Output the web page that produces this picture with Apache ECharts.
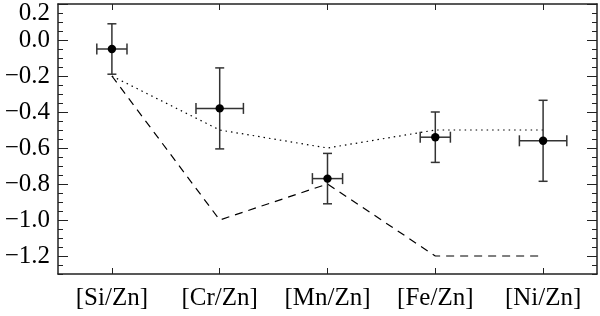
<!DOCTYPE html>
<html>
<head>
<meta charset="utf-8">
<script src="https://cdn.jsdelivr.net/npm/echarts@6/dist/echarts.min.js"></script>
<style>
html,body{margin:0;padding:0;background:#fff;}
#chart{width:600px;height:316px;}
</style>
</head>
<body>
<div id="chart"></div>
<script>
const categories = ['[Si/Zn]', '[Cr/Zn]', '[Mn/Zn]', '[Fe/Zn]', '[Ni/Zn]'];
const obsValues = [-0.05, -0.38, -0.77, -0.54, -0.56];
const obsYErr = [0.14, 0.225, 0.14, 0.14, 0.225];
const obsXErr = [0.14, 0.22, 0.14, 0.14, 0.22];
const modelDotted = [-0.2, -0.5, -0.6, -0.5, -0.5];
const modelDashed = [-0.2, -1.0, -0.8, -1.2, -1.2];
const yTickValues = [0.2, 0.0, -0.2, -0.4, -0.6, -0.8, -1.0, -1.2];

const FONT = 'Liberation Serif, serif';
const INK = '#222';

function fmt(v) {
  const r = Math.round(v * 10) / 10;
  const s = (r < 0 ? '\u2212' : '') + Math.abs(r).toFixed(1);
  if (Math.abs(v - 0.2) < 1e-9) return '{top|' + s + '}';
  return '{n|' + s + '}';
}

const errData = obsValues.map((v, i) => [i, v, obsYErr[i], obsXErr[i]]);

const chart = echarts.init(document.getElementById('chart'), null, {renderer: 'canvas'});

const baseY = {
  type: 'value', min: -1.3, max: 0.2,
  splitLine: {show: false}
};

chart.setOption({
  animation: false,
  backgroundColor: '#fff',
  textStyle: {fontFamily: FONT},
  grid: {left: 58, right: 3, top: 4, bottom: 42, containLabel: false},
  xAxis: [
    {
      type: 'category', data: categories, position: 'bottom', boundaryGap: true,
      axisLine: {show: true, onZero: false, lineStyle: {color: INK, width: 1.5}},
      axisTick: {show: true, inside: true, length: 6, alignWithLabel: true, interval: 0, lineStyle: {color: INK, width: 1}},
      axisLabel: {show: true, interval: 0, hideOverlap: false, color: '#000', fontFamily: FONT, fontSize: 25, margin: 12},
      splitLine: {show: false}
    },
    {
      type: 'category', data: categories, position: 'top', boundaryGap: true,
      axisLine: {show: true, onZero: false, lineStyle: {color: INK, width: 1.5}},
      axisTick: {show: true, inside: true, length: 6, alignWithLabel: true, interval: 0, lineStyle: {color: INK, width: 1}},
      axisLabel: {show: false},
      splitLine: {show: false}
    }
  ],
  yAxis: [
    Object.assign({}, baseY, {
      position: 'left',
      axisLine: {show: true, onZero: false, lineStyle: {color: INK, width: 1.5}},
      axisTick: {show: true, inside: true, length: 10, customValues: yTickValues, lineStyle: {color: INK, width: 1}},
      axisLabel: {
        show: true, customValues: yTickValues, formatter: fmt, color: '#000',
        fontFamily: FONT, fontSize: 25, margin: 8,
        rich: {
          top: {padding: [18, 0, 0, 0], fontFamily: FONT, fontSize: 25, color: '#000'},
          n: {fontFamily: FONT, fontSize: 25, color: '#000'}
        }
      }
    }),
    Object.assign({}, baseY, {
      position: 'right',
      axisLine: {show: true, onZero: false, lineStyle: {color: INK, width: 1.5}},
      axisTick: {show: true, inside: true, length: 10, customValues: yTickValues, lineStyle: {color: INK, width: 1}},
      axisLabel: {show: false}
    }),
    Object.assign({}, baseY, {
      position: 'left', interval: 0.05,
      axisLine: {show: false},
      axisTick: {show: true, inside: true, length: 5, lineStyle: {color: INK, width: 1}},
      axisLabel: {show: false}
    }),
    Object.assign({}, baseY, {
      position: 'right', interval: 0.05,
      axisLine: {show: false},
      axisTick: {show: true, inside: true, length: 5, lineStyle: {color: INK, width: 1}},
      axisLabel: {show: false}
    })
  ],
  series: [
    {
      type: 'line', data: modelDotted, xAxisIndex: 0, yAxisIndex: 0,
      symbol: 'none', silent: true,
      lineStyle: {color: '#000', width: 1.2, type: [1.5, 4]}, z: 2
    },
    {
      type: 'line', data: modelDashed, xAxisIndex: 0, yAxisIndex: 0,
      symbol: 'none', silent: true,
      lineStyle: {color: '#000', width: 1.2, type: [8, 6]}, z: 2
    },
    {
      type: 'custom', xAxisIndex: 0, yAxisIndex: 0, z: 5,
      data: errData,
      encode: {x: 0, y: 1},
      renderItem: function (params, api) {
        const i = api.value(0), v = api.value(1), ye = api.value(2), xe = api.value(3);
        const c = api.coord([i, v]);
        const top = api.coord([i, v + ye]);
        const bot = api.coord([i, v - ye]);
        const band = api.size([1, 0])[0];
        const dx = xe * band;
        const cw = 4.5, ch = 5.5;
        const st = {stroke: '#333', lineWidth: 1.5};
        return {
          type: 'group',
          children: [
            {type: 'line', shape: {x1: c[0], y1: top[1], x2: c[0], y2: bot[1]}, style: st},
            {type: 'line', shape: {x1: c[0] - cw, y1: top[1], x2: c[0] + cw, y2: top[1]}, style: st},
            {type: 'line', shape: {x1: c[0] - cw, y1: bot[1], x2: c[0] + cw, y2: bot[1]}, style: st},
            {type: 'line', shape: {x1: c[0] - dx, y1: c[1], x2: c[0] + dx, y2: c[1]}, style: st},
            {type: 'line', shape: {x1: c[0] - dx, y1: c[1] - ch, x2: c[0] - dx, y2: c[1] + ch}, style: st},
            {type: 'line', shape: {x1: c[0] + dx, y1: c[1] - ch, x2: c[0] + dx, y2: c[1] + ch}, style: st},
            {type: 'circle', shape: {cx: c[0], cy: c[1], r: 4.2}, style: {fill: '#000'}}
          ]
        };
      }
    }
  ]
});
</script>
</body>
</html>
